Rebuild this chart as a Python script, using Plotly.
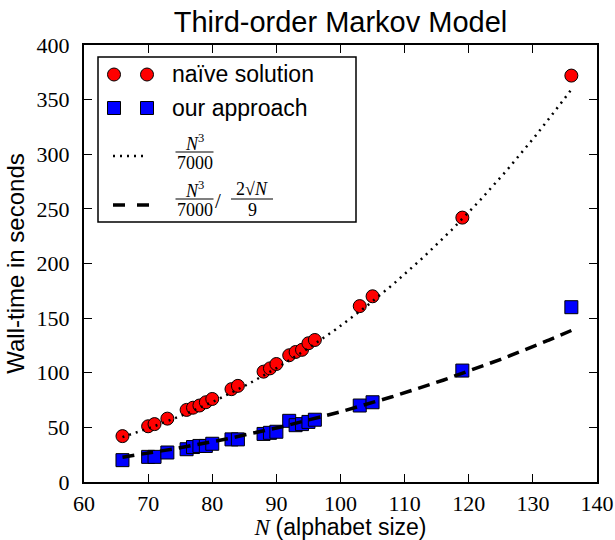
import numpy as np
import plotly.graph_objects as go

# ---- data ----
N_naive = [66, 70, 71, 73, 76, 77, 78, 79, 80, 83, 84, 88, 89, 90, 92, 93, 94, 95, 96, 103, 105, 119, 136]
t_naive = [42, 51, 53, 58, 66, 68, 70, 73, 76, 85, 88, 101, 104, 108, 116, 119, 121, 127, 130, 161, 170, 242, 372]
N_ours = [66, 70, 71, 73, 76, 77, 78, 79, 80, 83, 84, 88, 89, 90, 92, 93, 94, 95, 96, 103, 105, 119, 136]
t_ours = [20, 23, 23, 27, 30, 32, 33, 33, 35, 39, 39, 44, 45, 46, 56, 52, 53, 55, 57, 70, 73, 102, 160]
x_ticks = [60, 70, 80, 90, 100, 110, 120, 130, 140]
y_ticks = [0, 50, 100, 150, 200, 250, 300, 350, 400]

# model curves shown in the legend
N_fit = np.linspace(66, 136, 300)
fit_naive = N_fit ** 3 / 7000
fit_ours = (N_fit ** 3 / 7000) / (2 * np.sqrt(N_fit) / 9)

SERIF = "Liberation Serif"
SANS = "Liberation Sans"

fig = go.Figure()
fig.add_trace(go.Scatter(x=N_naive, y=t_naive, mode="markers", name="naïve solution",
                         marker=dict(symbol="circle", size=13, color="red",
                                     line=dict(color="black", width=1))))
fig.add_trace(go.Scatter(x=N_ours, y=t_ours, mode="markers", name="our approach",
                         marker=dict(symbol="square", size=13, color="blue",
                                     line=dict(color="black", width=1))))
fig.add_trace(go.Scatter(x=N_fit, y=fit_naive, mode="lines", name="N^3/7000",
                         line=dict(color="black", width=2.5, dash="2px,5px")))
fig.add_trace(go.Scatter(x=N_fit, y=fit_ours, mode="lines", name="N^3/7000 / (2sqrt(N)/9)",
                         line=dict(color="black", width=3.5, dash="12px,7px")))

# ---- pixel helpers for the hand-built legend ----
PL, PR, PT, PB = 84, 597, 45, 482
def px(x):
    return (x - PL) / (PR - PL)
def py(y):
    return (PB - y) / (PB - PT)

shapes = []
annotations = []

# legend frame
shapes.append(dict(type="rect", xref="paper", yref="paper",
                   x0=px(98), x1=px(356), y0=py(222), y1=py(57),
                   fillcolor="white", line=dict(color="black", width=1.5), layer="above"))

def marker_shape(kind, cx, cy, color):
    return dict(type=kind, xref="paper", yref="paper", xsizemode="pixel", ysizemode="pixel",
                xanchor=px(cx), yanchor=py(cy), x0=-6.5, x1=6.5, y0=-6.5, y1=6.5,
                fillcolor=color, line=dict(color="black", width=1), layer="above")

for cx in (114, 147):
    shapes.append(marker_shape("circle", cx, 74.5, "red"))
    shapes.append(marker_shape("rect", cx, 108, "blue"))

shapes.append(dict(type="line", xref="paper", yref="paper", x0=px(113), x1=px(146),
                   y0=py(156), y1=py(156), line=dict(color="black", width=2.5, dash="2px,5px"),
                   layer="above"))
shapes.append(dict(type="line", xref="paper", yref="paper", x0=px(113), x1=px(150),
                   y0=py(205), y1=py(205), line=dict(color="black", width=3.5, dash="12px,12px"),
                   layer="above"))

def text(t, x, y, size, family, xanchor="left"):
    annotations.append(dict(text=t, x=px(x), y=py(y), xref="paper", yref="paper",
                            xanchor=xanchor, yanchor="middle", showarrow=False,
                            font=dict(size=size, family=family, color="black")))

text("naïve solution", 170, 74.5, 23, SANS)
text("our approach", 170, 108, 23, SANS)

def frac(num, den, cx, y_bar, w, size=18):
    text(num, cx, y_bar - 10, size, SERIF, xanchor="center")
    text(den, cx, y_bar + 11, size, SERIF, xanchor="center")
    shapes.append(dict(type="line", xref="paper", yref="paper", x0=px(cx - w / 2),
                       x1=px(cx + w / 2), y0=py(y_bar), y1=py(y_bar),
                       line=dict(color="black", width=1.2), layer="above"))

frac("<i>N</i><sup>3</sup>", "7000", 194.5, 152, 38)
frac("<i>N</i><sup>3</sup>", "7000", 194.5, 199, 38)
text("/", 218, 201, 21, SERIF, xanchor="center")
frac("2√<i>N</i>", "9", 252, 199, 42)

fig.update_layout(
    width=615, height=540,
    margin=dict(l=PL, r=615 - PR, t=PT, b=540 - PB, pad=0),
    paper_bgcolor="white", plot_bgcolor="white",
    font=dict(family=SERIF, size=22, color="black"),
    showlegend=False,
    title=dict(text="Third-order Markov Model", x=(PL + PR) / 2 / 615, xanchor="center",
               y=1 - 22 / 540, yanchor="middle",
               font=dict(family=SANS, size=29, color="black")),
    shapes=shapes, annotations=annotations,
)
axis_common = dict(showline=True, linewidth=2, linecolor="black", mirror="ticks",
                   ticks="inside", ticklen=8, tickwidth=1, tickcolor="black",
                   showgrid=False, zeroline=False, automargin=False,
                   tickfont=dict(family=SERIF, size=22, color="black"))
fig.update_xaxes(range=[60, 140], tickvals=x_ticks, ticktext=[str(v) for v in x_ticks],
                 ticklabelstandoff=1,
                 title=dict(text="<i>N</i> <span style='font-family:Liberation Sans'>(alphabet size)</span>",
                            font=dict(family=SERIF, size=23, color="black"), standoff=15),
                 **axis_common)
fig.update_yaxes(range=[0, 400], tickvals=y_ticks, ticktext=[str(v) for v in y_ticks],
                 ticklabelstandoff=8,
                 title=dict(text="Wall-time in seconds", font=dict(family=SANS, size=24, color="black"),
                            standoff=5),
                 **axis_common)

fig.write_html("out.html")
